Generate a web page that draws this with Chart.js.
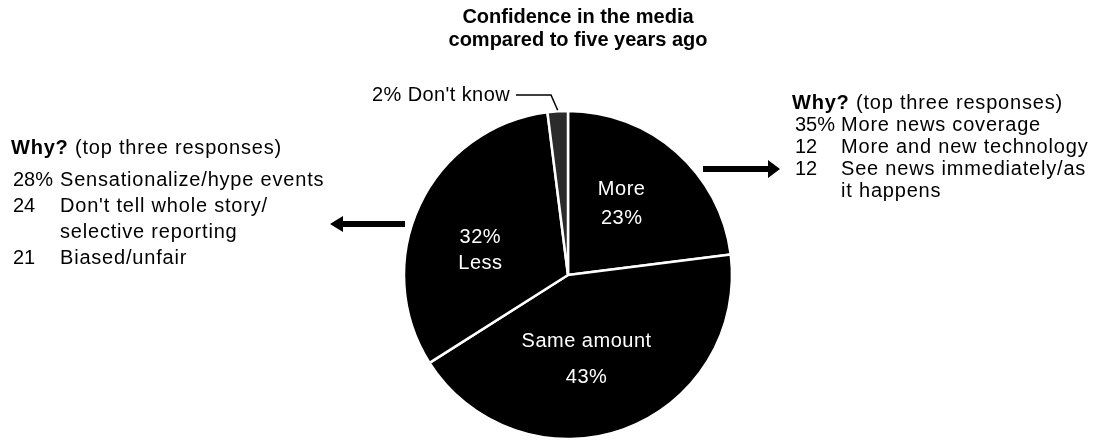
<!DOCTYPE html>
<html>
<head>
<meta charset="utf-8">
<script src="https://cdn.jsdelivr.net/npm/chart.js@4.4.1/dist/chart.umd.min.js"></script>
<style>
  html, body { margin: 0; padding: 0; background: #ffffff; }
  #wrap { width: 1093px; height: 441px; }
</style>
</head>
<body>
<div id="wrap"><canvas id="chart" width="1093" height="441"></canvas></div>
<script>
/* Data */
const categories = ['More', 'Same amount', 'Less', "Don't know"];
const shares = [23, 43, 32, 2];
const sliceColors = ['#000000', '#000000', '#000000', '#2b2b2b'];

const titleLines = ['Confidence in the media', 'compared to five years ago'];

const lessReasonValues = ['28%', '24', '', '21'];
const lessReasonTexts = ['Sensationalize/hype events', "Don't tell whole story/", 'selective reporting', 'Biased/unfair'];

const moreReasonValues = ['35%', '12', '12', ''];
const moreReasonTexts = ['More news coverage', 'More and new technology', 'See news immediately/as', 'it happens'];

const FONT = '"Liberation Sans", Arial, Helvetica, sans-serif';

// slice labels: text lines, nudge from mid-angle point, gap between lines
const sliceLabels = [
    { lines: ['More', '23%'], dx: -6, dy: -3, gap: 29 },
    { lines: ['Same amount', '43%'], dx: -12, dy: 0, gap: 36 },
    { lines: ['32%', 'Less'], dx: -6, dy: 14, gap: 26 },
    { lines: [], dx: 0, dy: 0, gap: 0 },
];

function arrow(ctx, x0, x1, y, dir, shaft, headLen, headHalf) {
    // dir = -1 points left (tip at x0), +1 points right (tip at x1)
    ctx.beginPath();
    if (dir < 0) {
        ctx.moveTo(x0, y);
        ctx.lineTo(x0 + headLen, y - headHalf);
        ctx.lineTo(x0 + headLen, y - shaft / 2);
        ctx.lineTo(x1, y - shaft / 2);
        ctx.lineTo(x1, y + shaft / 2);
        ctx.lineTo(x0 + headLen, y + shaft / 2);
        ctx.lineTo(x0 + headLen, y + headHalf);
    } else {
        ctx.moveTo(x1, y);
        ctx.lineTo(x1 - headLen, y - headHalf);
        ctx.lineTo(x1 - headLen, y - shaft / 2);
        ctx.lineTo(x0, y - shaft / 2);
        ctx.lineTo(x0, y + shaft / 2);
        ctx.lineTo(x1 - headLen, y + shaft / 2);
        ctx.lineTo(x1 - headLen, y + headHalf);
    }
    ctx.closePath();
    ctx.fill();
}

function whyBlock(ctx, x, y, numX, textX, lineH, firstGap, values, texts) {
    ctx.textAlign = 'left';
    ctx.letterSpacing = '0.8px';
    ctx.font = 'bold 20px ' + FONT;
    ctx.fillText('Why?', x, y);
    const w = ctx.measureText('Why? ').width;
    ctx.font = '20px ' + FONT;
    ctx.fillText('(top three responses)', x + w, y);
    for (let i = 0; i < texts.length; i++) {
        const ly = y + firstGap + i * lineH;
        ctx.letterSpacing = '0px';
        if (values[i]) ctx.fillText(values[i], numX, ly);
        ctx.letterSpacing = '0.8px';
        ctx.fillText(texts[i], textX, ly);
    }
    ctx.letterSpacing = '0px';
}

const annotations = {
    id: 'annotations',
    afterDatasetsDraw(chart) {
        const ctx = chart.ctx;
        const meta = chart.getDatasetMeta(0);
        ctx.save();

        // labels inside slices
        ctx.fillStyle = '#ffffff';
        ctx.font = '20px ' + FONT;
        ctx.letterSpacing = '0.5px';
        ctx.textAlign = 'center';
        ctx.textBaseline = 'middle';
        meta.data.forEach((arc, i) => {
            const lab = sliceLabels[i];
            if (!lab.lines.length) return;
            const p = arc.getProps(['x', 'y', 'startAngle', 'endAngle', 'outerRadius'], true);
            const mid = (p.startAngle + p.endAngle) / 2;
            const cx = p.x + Math.cos(mid) * p.outerRadius * 0.55 + lab.dx;
            const cy = p.y + Math.sin(mid) * p.outerRadius * 0.55 + lab.dy;
            const top = cy - (lab.lines.length - 1) * lab.gap / 2;
            lab.lines.forEach((t, k) => ctx.fillText(t, cx, top + k * lab.gap));
        });

        ctx.fillStyle = '#000000';
        ctx.letterSpacing = '0px';

        // title
        ctx.font = 'bold 20px ' + FONT;
        ctx.fillText(titleLines[0], 578, 17);
        ctx.fillText(titleLines[1], 578, 40);

        // small slice callout with leader line
        const dk = meta.data[3].getProps(['x', 'y', 'startAngle', 'endAngle', 'outerRadius'], true);
        const dkMid = (dk.startAngle + dk.endAngle) / 2;
        const ex = dk.x + Math.cos(dkMid) * dk.outerRadius;
        const ey = dk.y + Math.sin(dkMid) * dk.outerRadius;
        ctx.font = '20px ' + FONT;
        ctx.letterSpacing = '0.4px';
        ctx.textAlign = 'right';
        ctx.fillText(shares[3] + '% ' + categories[3], 510, 95);
        ctx.letterSpacing = '0px';
        ctx.strokeStyle = '#000000';
        ctx.lineWidth = 1.5;
        ctx.beginPath();
        ctx.moveTo(516, 95);
        ctx.lineTo(551, 95);
        ctx.lineTo(ex, ey - 1);
        ctx.stroke();

        // reason blocks
        whyBlock(ctx, 11, 148, 13, 60, 26, 32, lessReasonValues, lessReasonTexts);
        whyBlock(ctx, 792, 103, 795, 841, 22, 22, moreReasonValues, moreReasonTexts);

        // arrows
        arrow(ctx, 330, 405, 224, -1, 6, 13, 8);
        arrow(ctx, 703, 780, 169, 1, 6, 12, 9);

        ctx.restore();
    },
};

new Chart(document.getElementById('chart'), {
    type: 'pie',
    data: {
        labels: categories,
        datasets: [{
            data: shares,
            backgroundColor: sliceColors,
            borderColor: '#ffffff',
            borderWidth: 2.5,
            radius: 164,
        }],
    },
    options: {
        responsive: false,
        animation: false,
        layout: {
            padding: { top: 111, bottom: 2, left: 404, right: 361 },
        },
        plugins: {
            legend: { display: false },
            tooltip: { enabled: false },
            title: { display: false },
        },
    },
    plugins: [annotations],
});
</script>
</body>
</html>
